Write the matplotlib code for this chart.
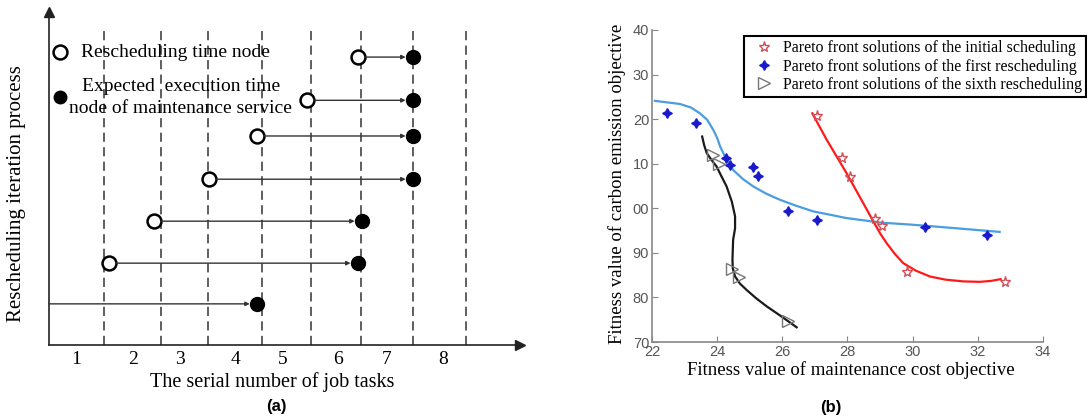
import matplotlib
matplotlib.use("Agg")
from matplotlib import pyplot as plt

plt.rcParams['font.family'] = ['Liberation Serif', 'DejaVu Serif']

# ---- panel (a) data: rescheduling iterations ----
task_labels = ['1', '2', '3', '4', '5', '6', '7', '8']
label_pos = [0.52, 1.62, 2.52, 3.6, 4.5, 5.56, 6.5, 7.58]
boundaries = [1.06, 2.15, 3.06, 4.1, 5.04, 6.0, 7.0, 8.02]
rows = [6.86, 5.83, 4.98, 3.95, 2.95, 1.95, 0.98]
resched_node = [5.94, 4.96, 4.0, 3.08, 2.02, 1.15, 0.0]
maint_node = [7.0, 7.0, 7.0, 7.0, 6.02, 5.94, 4.0]

# ---- panel (b) data: Pareto fronts ----
init_x = [27.07, 27.84, 28.07, 28.84, 29.07, 29.82, 32.83]
init_y = [120.8, 111.3, 107.1, 97.7, 96.1, 85.6, 83.5]
first_x = [22.47, 23.35, 24.26, 24.39, 25.11, 25.26, 26.16, 27.05, 30.39, 32.29]
first_y = [121.3, 119.1, 111.3, 109.6, 109.2, 107.3, 99.5, 97.4, 95.9, 93.9]
sixth_x = [23.88, 24.07, 24.46, 24.68, 26.18]
sixth_y = [111.9, 109.9, 86.4, 84.5, 74.8]

# fitted curves
first_fit_x = [22.09, 22.86, 23.2, 23.47, 23.7, 23.88, 24.0, 24.09, 24.24, 24.49, 24.8, 25.11,
               25.5, 25.93, 26.45, 26.95, 27.5, 27.97, 28.5, 28.99, 30.02, 31.04, 32.67]
first_fit_y = [124.1, 123.4, 122.6, 121.3, 119.8, 117.6, 115.8, 113.9, 111.6, 108.6, 106.5, 104.9,
               103.3, 101.9, 100.5, 99.3, 98.5, 97.8, 97.3, 96.8, 96.3, 95.7, 94.7]
init_fit_x = [26.92, 27.36, 27.97, 28.48, 28.79, 29.0, 29.2, 29.45, 29.71, 30.1, 30.53, 31.0,
              31.55, 32.06, 32.4, 32.7]
init_fit_y = [121.3, 115.4, 107.9, 101.2, 97.1, 94.4, 92.2, 89.8, 87.7, 86.0, 84.7, 84.0,
              83.6, 83.5, 83.7, 84.1]
sixth_fit_x = [23.54, 23.6, 23.68, 23.82, 23.98, 24.13, 24.29, 24.45, 24.55, 24.55, 24.49,
               24.47, 24.48, 24.55, 24.7, 24.9, 25.2, 25.52, 26.0, 26.44]
sixth_fit_y = [116.1, 114.2, 112.4, 110.9, 109.4, 107.2, 104.9, 101.5, 98.2, 95.5, 92.9,
               88.5, 86.5, 84.7, 83.1, 81.7, 79.8, 78.0, 75.6, 73.3]

fig = plt.figure(figsize=(10.87, 4.2), dpi=100)

# ================= (a) =================
axa = fig.add_axes([0.045, 0.1786, 0.433, 0.7924])
axa.set_xlim(0, 9.06)
axa.set_ylim(0, 7.93)
for s in ['top', 'right']:
    axa.spines[s].set_visible(False)
for s in ['left', 'bottom']:
    axa.spines[s].set_linewidth(1.2)
    axa.spines[s].set_color('#222222')
axa.plot(1, 0, '>', color='#222222', ms=7, transform=axa.transAxes, clip_on=False)
axa.plot(0, 1, '^', color='#222222', ms=7, transform=axa.transAxes, clip_on=False)

axa.vlines(boundaries, 0, 7.5, colors='#333333', linewidth=1.1, linestyles=(0, (6, 3.5)))

for y, x0, x1 in zip(rows, resched_node, maint_node):
    axa.annotate('', xy=(x1, y), xytext=(x0, y),
                 arrowprops=dict(arrowstyle='-|>', lw=1.0, color='#333333',
                                 shrinkA=5 if x0 > 0 else 0, shrinkB=5,
                                 mutation_scale=6))
open_x = [x for x in resched_node if x > 0]
axa.plot(open_x, rows[:len(open_x)], 'o', ms=10, mfc='white', mec='black', mew=1.8,
         linestyle='none')
axa.plot(maint_node, rows, 'o', ms=10, color='black', linestyle='none')

# legend of panel (a)
axa.plot(0.21, 6.98, 'o', ms=10, mfc='white', mec='black', mew=1.8)
axa.text(0.62, 6.98, 'Rescheduling time node', fontsize=14, va='center', ha='left')
axa.plot(0.21, 5.9, 'o', ms=9, color='black')
axa.text(2.54, 5.9, 'Expected  execution time\nnode of maintenance service',
         fontsize=14, va='center', ha='center', linespacing=1.35)

axa.set_xticks(label_pos)
axa.set_xticklabels(task_labels, fontsize=14)
axa.tick_params(axis='x', length=0, pad=4)
axa.set_yticks([])

fig.text(0.250, 0.0905, 'The serial number of job tasks', fontsize=14.5, ha='center',
         va='center')
fig.text(0.0156, 0.538, 'Rescheduling iteration process', fontsize=15, ha='center',
         va='center', rotation=90)
fig.text(0.254, 0.033, '(a)', fontsize=12, fontweight='bold', family='Liberation Sans',
         ha='center', va='center')

# ================= (b) =================
axb = fig.add_axes([0.5998, 0.1857, 0.3597, 0.7429])
axb.set_xlim(22, 34)
axb.set_ylim(70, 140)
for s in ['top', 'right']:
    axb.spines[s].set_visible(False)
for s in ['left', 'bottom']:
    axb.spines[s].set_color('#888888')
    axb.spines[s].set_linewidth(1.2)

axb.plot(first_fit_x, first_fit_y, color='#4a9ee0', lw=1.6)
axb.plot(init_fit_x, init_fit_y, color='#ff1a1a', lw=1.6)
axb.plot(sixth_fit_x, sixth_fit_y, color='#1a1a1a', lw=1.6)

axb.plot(init_x, init_y, linestyle='none', marker='*', ms=8, mfc='none', mec='#d0505a', mew=1.0,
         label='Pareto front solutions of the initial scheduling')
axb.plot(first_x, first_y, linestyle='none', marker=(4, 1, 0), ms=7, color='#1a1acc',
         label='Pareto front solutions of the first rescheduling')
axb.plot(sixth_x, sixth_y, linestyle='none', marker='>', ms=8, mfc='none', mec='#777777',
         mew=1.0, label='Pareto front solutions of the sixth rescheduling')

xt = [22, 24, 26, 28, 30, 32, 34]
yt = [70, 80, 90, 100, 110, 120, 130, 140]
yt_labels = ['70', '80', '90', '00', '10', '20', '30', '40']
axb.set_xticks(xt)
axb.set_xticklabels([str(v) for v in xt], family='Liberation Sans', fontsize=10.5,
                    color='#555555')
axb.set_yticks(yt)
axb.set_yticklabels(yt_labels, family='Liberation Sans', fontsize=10.5, color='#555555')
axb.tick_params(direction='in', length=4, color='#888888', pad=2)

leg = axb.legend(loc='upper left', bbox_to_anchor=(0.6845, 0.914),
                 bbox_transform=fig.transFigure, fontsize=11.5, frameon=True, fancybox=False,
                 borderaxespad=0, handlelength=2.0, handletextpad=0.2, labelspacing=0.15,
                 borderpad=0.25)
leg.get_frame().set_edgecolor('black')
leg.get_frame().set_linewidth(1.5)
leg.get_frame().set_alpha(1)

fig.text(0.783, 0.119, 'Fitness value of maintenance cost objective', fontsize=13.5,
         ha='center', va='center')
fig.text(0.5676, 0.562, 'Fitness value of carbon emission objective', fontsize=13.5,
         ha='center', va='center', rotation=90)
fig.text(0.764, 0.029, '(b)', fontsize=12, fontweight='bold', family='Liberation Sans',
         ha='center', va='center')

fig.savefig('out.png', dpi=100)
